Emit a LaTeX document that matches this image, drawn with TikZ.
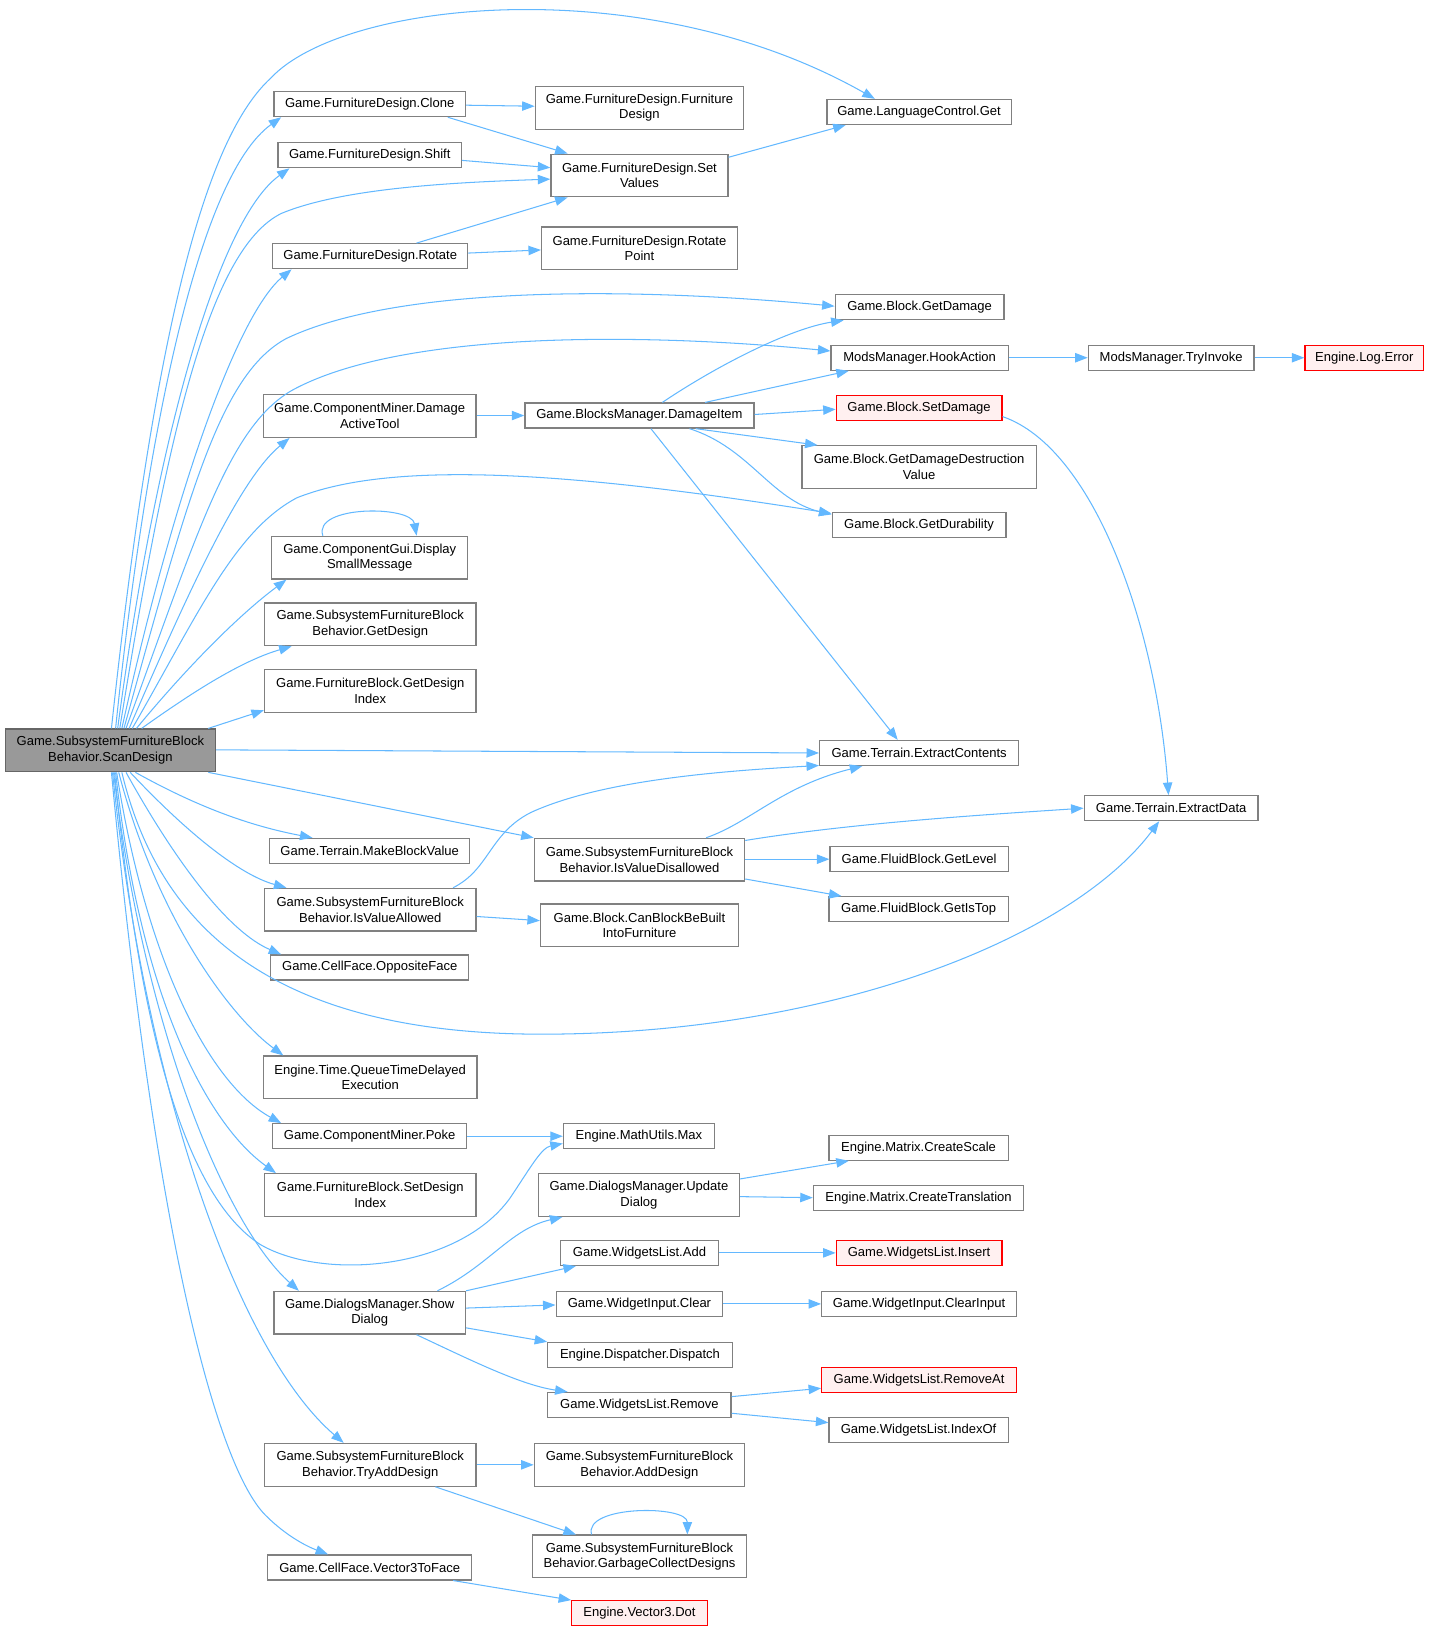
\documentclass[tikz,border=0pt]{standalone}
\usepackage{fontspec}
\setmainfont{Liberation Sans}
\usetikzlibrary{arrows.meta,calc}
\definecolor{edgecol}{RGB}{99,184,255}
\definecolor{boxline}{RGB}{128,128,128}
\definecolor{mainfill}{RGB}{153,153,153}
\definecolor{redfill}{RGB}{255,240,240}
\tikzset{
  fn/.style={draw=boxline, line width=1.2pt, fill=white, inner sep=0pt, align=center,
    font=\fontsize{12.5}{15}\selectfont},
  mainnode/.style={fn, draw=boxline!80!black, fill=mainfill},
  rednode/.style={fn, draw=red, fill=redfill},
  e/.style={draw=edgecol, line width=1pt, -{Triangle[length=12pt,width=9pt]}},
}
\begin{document}
\begin{tikzpicture}[x=1pt,y=-1pt]
\useasboundingbox (0,0) rectangle (1373,1568);
% main
\node[mainnode, minimum width=202, minimum height=41] (main) at (106,720.5) {Game.SubsystemFurnitureBlock\\Behavior.ScanDesign};
% column 2
\node[fn, minimum width=184, minimum height=24] (clone) at (355,100) {Game.FurnitureDesign.Clone};
\node[fn, minimum width=176, minimum height=24] (shift) at (355,149) {Game.FurnitureDesign.Shift};
\node[fn, minimum width=187, minimum height=24] (rotate) at (355.5,246) {Game.FurnitureDesign.Rotate};
\node[fn, minimum width=204, minimum height=41] (dat) at (355,399.5) {Game.ComponentMiner.Damage\\ActiveTool};
\node[fn, minimum width=188, minimum height=41] (dsm) at (355,535.5) {Game.ComponentGui.Display\\SmallMessage};
\node[fn, minimum width=203, minimum height=41] (getdesign) at (355.5,599.5) {Game.SubsystemFurnitureBlock\\Behavior.GetDesign};
\node[fn, minimum width=203, minimum height=41] (gdi) at (355.5,663.5) {Game.FurnitureBlock.GetDesign\\Index};
\node[fn, minimum width=192, minimum height=24] (mbv) at (355,817) {Game.Terrain.MakeBlockValue};
\node[fn, minimum width=203, minimum height=41] (iva) at (355.5,873.5) {Game.SubsystemFurnitureBlock\\Behavior.IsValueAllowed};
\node[fn, minimum width=190, minimum height=24] (opp) at (355,929) {Game.CellFace.OppositeFace};
\node[fn, minimum width=205, minimum height=41] (qtd) at (355.5,1034.5) {Engine.Time.QueueTimeDelayed\\Execution};
\node[fn, minimum width=186, minimum height=24] (poke) at (355,1091) {Game.ComponentMiner.Poke};
\node[fn, minimum width=203, minimum height=41] (sdi) at (355.5,1147.5) {Game.FurnitureBlock.SetDesign\\Index};
\node[fn, minimum width=184, minimum height=41] (show) at (355,1260.5) {Game.DialogsManager.Show\\Dialog};
\node[fn, minimum width=203, minimum height=41] (tad) at (355.5,1406.5) {Game.SubsystemFurnitureBlock\\Behavior.TryAddDesign};
\node[fn, minimum width=196, minimum height=24] (v3f) at (355,1505) {Game.CellFace.Vector3ToFace};
% column 3
\node[fn, minimum width=200, minimum height=41] (fdfd) at (614,103.5) {Game.FurnitureDesign.Furniture\\Design};
\node[fn, minimum width=170, minimum height=41] (setv) at (614,168.5) {Game.FurnitureDesign.Set\\Values};
\node[fn, minimum width=188, minimum height=41] (rotp) at (614,238.5) {Game.FurnitureDesign.Rotate\\Point};
\node[fn, minimum width=220, minimum height=24] (dmgitem) at (614,399) {Game.BlocksManager.DamageItem};
\node[fn, minimum width=202, minimum height=41] (ivd) at (614,825.5) {Game.SubsystemFurnitureBlock\\Behavior.IsValueDisallowed};
\node[fn, minimum width=190, minimum height=41] (canb) at (614,888.5) {Game.Block.CanBlockBeBuilt\\IntoFurniture};
\node[fn, minimum width=145, minimum height=24] (max) at (613.5,1091) {Engine.MathUtils.Max};
\node[fn, minimum width=193, minimum height=41] (upd) at (613.5,1147.5) {Game.DialogsManager.Update\\Dialog};
\node[fn, minimum width=152, minimum height=24] (add) at (614,1203) {Game.WidgetsList.Add};
\node[fn, minimum width=160, minimum height=24] (clear) at (614,1252) {Game.WidgetInput.Clear};
\node[fn, minimum width=177, minimum height=24] (disp) at (614.5,1301) {Engine.Dispatcher.Dispatch};
\node[fn, minimum width=176, minimum height=24] (remove) at (614,1349) {Game.WidgetsList.Remove};
\node[fn, minimum width=202, minimum height=41] (adddes) at (614,1406.5) {Game.SubsystemFurnitureBlock\\Behavior.AddDesign};
\node[fn, minimum width=206, minimum height=41] (gcd) at (614,1494.5) {Game.SubsystemFurnitureBlock\\Behavior.GarbageCollectDesigns};
\node[rednode, minimum width=130, minimum height=24] (dot) at (614,1549) {Engine.Vector3.Dot};
% column 4
\node[fn, minimum width=177, minimum height=24] (lang) at (882.5,107.5) {Game.LanguageControl.Get};
\node[fn, minimum width=162, minimum height=24] (getdmg) at (883,295) {Game.Block.GetDamage};
\node[fn, minimum width=170, minimum height=24] (hook) at (883,343.5) {ModsManager.HookAction};
\node[rednode, minimum width=159, minimum height=24] (setdmg) at (882.5,392) {Game.Block.SetDamage};
\node[fn, minimum width=225, minimum height=41] (gddv) at (882.5,448.5) {Game.Block.GetDamageDestruction\\Value};
\node[fn, minimum width=167, minimum height=24] (gdur) at (882.5,504) {Game.Block.GetDurability};
\node[fn, minimum width=191, minimum height=24] (extc) at (882.5,723) {Game.Terrain.ExtractContents};
\node[fn, minimum width=171, minimum height=24] (glevel) at (882.5,825) {Game.FluidBlock.GetLevel};
\node[fn, minimum width=172, minimum height=24] (gistop) at (882,873) {Game.FluidBlock.GetIsTop};
\node[fn, minimum width=172, minimum height=24] (cscale) at (882,1102) {Engine.Matrix.CreateScale};
\node[fn, minimum width=202, minimum height=24] (ctrans) at (882,1150.5) {Engine.Matrix.CreateTranslation};
\node[rednode, minimum width=159, minimum height=24] (insert) at (882.5,1203) {Game.WidgetsList.Insert};
\node[fn, minimum width=187, minimum height=24] (cinput) at (882.5,1252) {Game.WidgetInput.ClearInput};
\node[rednode, minimum width=187, minimum height=24] (removeat) at (882.5,1325) {Game.WidgetsList.RemoveAt};
\node[fn, minimum width=172, minimum height=24] (indexof) at (882,1373) {Game.WidgetsList.IndexOf};
% column 5/6
\node[fn, minimum width=159, minimum height=24] (tryinv) at (1124.5,343.5) {ModsManager.TryInvoke};
\node[fn, minimum width=167, minimum height=24] (extd) at (1124.5,776) {Game.Terrain.ExtractData};
\node[rednode, minimum width=114, minimum height=24] (logerr) at (1310,343.5) {Engine.Log.Error};

% edges from main
\draw[e] (main.north -| 107,0) .. controls (150,300) and (200,130) .. (260,75) .. controls (330,0) and (620,-30) .. (lang.north -| 840,0);
\draw[e] (main.north -| 111,0) .. controls (140,420) and (190,170) .. (clone.south -| 270,0);
\draw[e] (main.north -| 113,0) .. controls (150,420) and (210,210) .. (shift.south -| 278,0);
\draw[e] (main.north -| 115,0) .. controls (160,420) and (200,240) .. (270,205) .. controls (330,180) and (440,175) .. (setv.west |- 0,172);
\draw[e] (main.north -| 117,0) .. controls (170,460) and (230,300) .. (rotate.south -| 280,0);
\draw[e] (main.north -| 119,0) .. controls (180,480) and (210,360) .. (275,325) .. controls (380,275) and (600,275) .. (getdmg.west |- 0,294);
\draw[e] (main.north -| 121,0) .. controls (190,510) and (220,410) .. (280,375) .. controls (380,320) and (600,318) .. (hook.west |- 0,337);
\draw[e] (main.north -| 124,0) .. controls (180,570) and (230,460) .. (dat.south -| 278,0);
\draw[e] (main.north -| 127,0) .. controls (190,590) and (225,510) .. (285,478) .. controls (380,440) and (560,455) .. (gdur.west |- 0,493);
\draw[e] (main.north -| 131,0) .. controls (180,640) and (230,590) .. (dsm.south -| 275,0);
\draw[e] (main.north -| 136,0) .. controls (180,668) and (230,635) .. (getdesign.south -| 280,0);
\draw[e] (main.north -| 200,0) -- (gdi.west |- 0,682);
\draw[e] (main.east |- 0,720) -- (extc.west |- 0,723);
\draw[e] (main.south -| 200,0) -- (ivd.north west);
\draw[e] (main.south -| 130,0) .. controls (190,775) and (240,793) .. (mbv.north -| 300,0);
\draw[e] (main.south -| 125,0) .. controls (180,800) and (230,840) .. (iva.north -| 275,0);
\draw[e] (main.south -| 121,0) .. controls (170,830) and (220,895) .. (opp.north -| 270,0);
\draw[e] (main.south -| 117,0) .. controls (150,880) and (250,993) .. (520,993) .. controls (800,993) and (1030,900) .. (extd.south -| 1113,0);
\draw[e] (main.south -| 114,0) .. controls (150,880) and (220,975) .. (qtd.north -| 272,0);
\draw[e] (main.south -| 112,0) .. controls (140,920) and (200,1040) .. (poke.north -| 270,0);
\draw[e] (main.south -| 111,0) .. controls (135,960) and (200,1080) .. (sdi.north -| 265,0);
\draw[e] (main.south -| 110,0) .. controls (135,1000) and (180,1150) .. (250,1195) .. controls (310,1230) and (440,1220) .. (490,1150) .. controls (510,1120) and (520,1102) .. (max.west |- 0,1098);
\draw[e] (main.south -| 109,0) .. controls (140,1000) and (220,1180) .. (show.north -| 287,0);
\draw[e] (main.south -| 108,0) .. controls (140,1050) and (230,1300) .. (tad.north -| 330,0);
\draw[e] (main.south -| 107,0) .. controls (150,1200) and (210,1410) .. (255,1455) .. controls (275,1475) and (295,1485) .. (v3f.north -| 315,0);

% other edges
\draw[e] (clone.east |- 0,101) -- (fdfd.west |- 0,102);
\draw[e] (clone.south -| 430,0) -- (setv.north -| 545,0);
\draw[e] (shift.east |- 0,154) -- (setv.west |- 0,161);
\draw[e] (rotate.north -| 400,0) -- (setv.south -| 545,0);
\draw[e] (rotate.east |- 0,243) -- (rotp.west |- 0,240);
\draw[e] (setv.east |- 0,151) -- (lang.south -| 812,0);
\draw[e] (dat.east |- 0,399) -- (dmgitem.west |- 0,399);
\draw[e] (dmgitem.north -| 636,0) .. controls (690,350) and (760,315) .. (getdmg.south -| 810,0);
\draw[e] (dmgitem.north -| 677,0) -- (hook.south -| 815,0);
\draw[e] (dmgitem.east |- 0,398) -- (setdmg.west |- 0,393);
\draw[e] (dmgitem.south -| 668,0) -- (gddv.north -| 785,0);
\draw[e] (dmgitem.south -| 662,0) .. controls (720,430) and (740,480) .. (gdur.west |- 0,494);
\draw[e] (dmgitem.south -| 625,0) -- (extc.north -| 862,0);
\draw[e] (hook.east) -- (tryinv.west);
\draw[e] (tryinv.east) -- (logerr.west);
\draw[e] (setdmg.east |- 0,400) .. controls (1050,430) and (1110,600) .. (extd.north -| 1122,0);
\draw[e] (dsm.north -| 310,0) .. controls (300,485) and (395,485) .. (dsm.north -| 400,0);
\draw[e] (iva.north -| 435,0) .. controls (470,835) and (470,800) .. (510,780) .. controls (580,748) and (700,740) .. (extc.west |- 0,735);
\draw[e] (iva.east |- 0,880) -- (canb.west |- 0,884);
\draw[e] (ivd.north -| 678,0) .. controls (720,790) and (750,755) .. (extc.south -| 828,0);
\draw[e] (ivd.east |- 0,807) .. controls (820,790) and (950,782) .. (extd.west |- 0,776);
\draw[e] (ivd.east |- 0,825) -- (glevel.west |- 0,825);
\draw[e] (ivd.east |- 0,844) -- (gistop.north -| 808,0);
\draw[e] (poke.east |- 0,1091) -- (max.west |- 0,1091);
\draw[e] (upd.east |- 0,1132) -- (cscale.south -| 815,0);
\draw[e] (upd.east |- 0,1149) -- (ctrans.west |- 0,1150);
\draw[e] (show.north -| 420,0) .. controls (470,1215) and (490,1180) .. (upd.south -| 540,0);
\draw[e] (show.north east) -- (add.south -| 553,0);
\draw[e] (show.east |- 0,1256) -- (clear.west |- 0,1253);
\draw[e] (show.east |- 0,1275) -- (disp.north west);
\draw[e] (show.south -| 400,0) .. controls (450,1305) and (500,1330) .. (remove.north -| 545,0);
\draw[e] (add.east) -- (insert.west);
\draw[e] (clear.east) -- (cinput.west);
\draw[e] (remove.east |- 0,1341) -- (removeat.west |- 0,1333);
\draw[e] (remove.east |- 0,1357) -- (indexof.west |- 0,1366);
\draw[e] (tad.east) -- (adddes.west);
\draw[e] (tad.south -| 418,0) -- (gcd.north -| 553,0);
\draw[e] (gcd.north -| 568,0) .. controls (560,1445) and (660,1445) .. (gcd.north -| 660,0);
\draw[e] (v3f.south -| 435,0) -- (dot.north west);
\end{tikzpicture}
\end{document}
